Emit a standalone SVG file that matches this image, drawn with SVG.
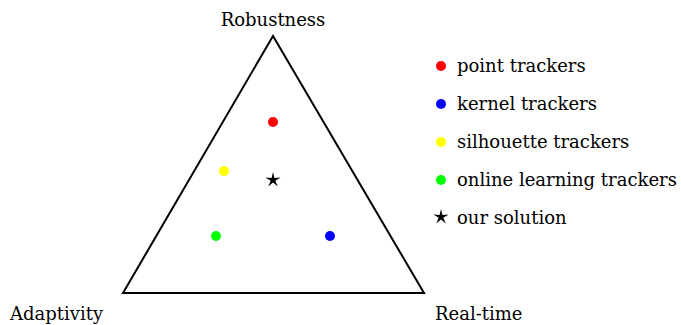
<svg xmlns="http://www.w3.org/2000/svg" width="681" height="325" viewBox="0 0 681 325">
<style>
text{font-family:"DejaVu Serif","Liberation Serif",serif;font-size:18px;fill:#000}
.dot{stroke:none}
</style>
<defs>
<polygon id="star" points="0,-8 1.41,-1.94 7.61,-2.47 2.28,0.74 4.70,6.47 0,2.4 -4.70,6.47 -2.28,0.74 -7.61,-2.47 -1.41,-1.94" fill="#000"/>
</defs>
<rect width="681" height="325" fill="#fff"/>
<g id="triangle">
<polygon points="273,36 123,293 424,293" fill="none" stroke="#000" stroke-width="2" stroke-linejoin="miter"/>
</g>
<g id="labels">
<text x="273" y="26" text-anchor="middle">Robustness</text>
<text x="10" y="320">Adaptivity</text>
<text x="435" y="320">Real-time</text>
</g>
<g id="points">
<circle class="dot" cx="273" cy="122" r="5" fill="#ff0000"/>
<circle class="dot" cx="224" cy="171" r="5" fill="#ffff00"/>
<circle class="dot" cx="216" cy="236" r="5" fill="#00ff00"/>
<circle class="dot" cx="330" cy="236" r="5" fill="#0000ff"/>
<use href="#star" x="273" y="180"/>
</g>
<g id="legend">
<circle class="dot" cx="441" cy="66" r="5" fill="#ff0000"/>
<text x="457" y="72">point trackers</text>
<circle class="dot" cx="441" cy="104" r="5" fill="#0000ff"/>
<text x="457" y="110">kernel trackers</text>
<circle class="dot" cx="441" cy="142" r="5" fill="#ffff00"/>
<text x="457" y="148">silhouette trackers</text>
<circle class="dot" cx="441" cy="180" r="5" fill="#00ff00"/>
<text x="457" y="186">online learning trackers</text>
<use href="#star" x="441" y="217"/>
<text x="457" y="224">our solution</text>
</g>
</svg>
